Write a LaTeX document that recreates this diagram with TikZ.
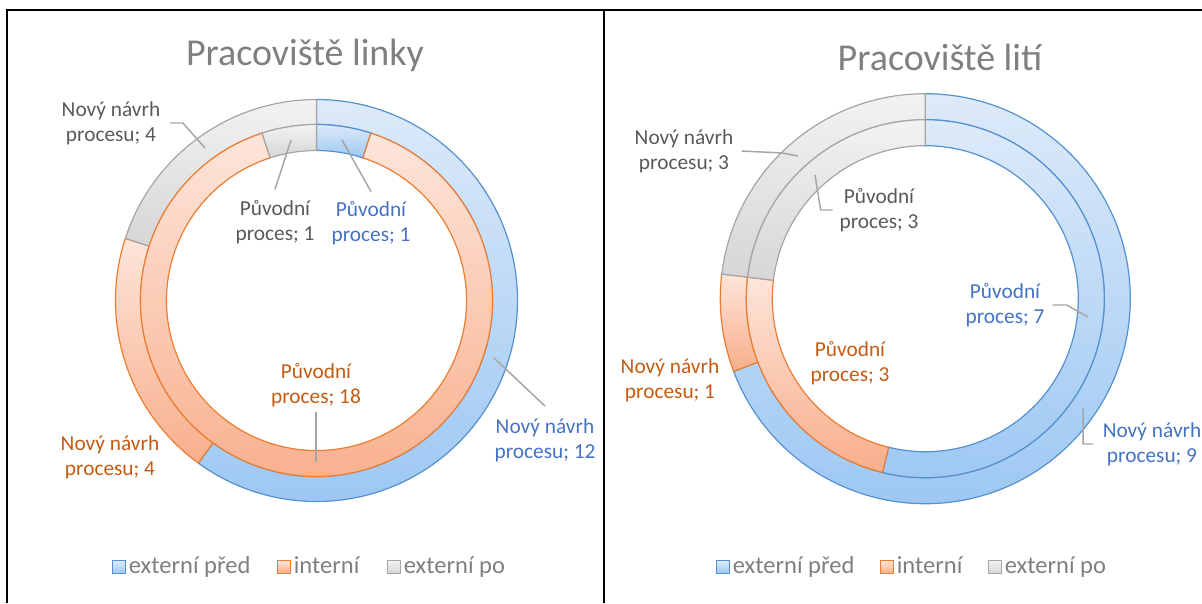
\documentclass[tikz,border=0pt]{standalone}
\usepackage{fontspec}
\setmainfont{Carlito}
\usetikzlibrary{positioning}

\definecolor{blueTop}{HTML}{DDEAF9}
\definecolor{blueBot}{HTML}{9DC8F3}
\definecolor{blueLine}{HTML}{5590D0}
\definecolor{blueText}{HTML}{4472C4}
\definecolor{orangeTop}{HTML}{FDE5DA}
\definecolor{orangeBot}{HTML}{F8AE8B}
\definecolor{orangeLine}{HTML}{ED7D31}
\definecolor{orangeText}{HTML}{C55A11}
\definecolor{grayTop}{HTML}{F2F2F2}
\definecolor{grayBot}{HTML}{D6D6D6}
\definecolor{grayLine}{HTML}{A5A5A5}
\definecolor{grayText}{HTML}{595959}
\definecolor{titleText}{HTML}{7F7F7F}

% one piece of a ring: centre, inner r, outer r, from, to, style
\newcommand{\donutpart}[6]{%
  \path[#6] ([shift={(#4:#3)}]#1) arc[start angle=#4, end angle=#5, radius=#3]
    -- ([shift={(#5:#2)}]#1) arc[start angle=#5, end angle=#4, radius=#2] -- cycle;}

\begin{document}
\begin{tikzpicture}[x=0.75pt, y=0.75pt,
    bluepart/.style={top color=blueTop, bottom color=blueBot, draw=blueLine, line width=0.9pt},
    orangepart/.style={top color=orangeTop, bottom color=orangeBot, draw=orangeLine, line width=0.9pt},
    graypart/.style={top color=grayTop, bottom color=grayBot, draw=grayLine, line width=0.9pt},
    charttitle/.style={font=\fontsize{28.5}{32}\selectfont, text=titleText, inner sep=0pt},
    lbl/.style={align=center, font=\fontsize{16}{18.75}\selectfont, inner sep=0pt},
    leader/.style={draw=grayLine, line width=1.1pt},
    keybox/.style={minimum size=9.5pt, inner sep=0pt, line width=0.9pt},
    keytext/.style={font=\fontsize{18.4}{20}\selectfont, text=titleText, inner sep=0pt,
      text height=13pt, text depth=3.7pt, anchor=west}]
  \useasboundingbox (0,0) rectangle (1202,-603);

  % Frame
  \draw[line width=1.6pt] (7,-603) -- (7,-10) -- (1202,-10);
  \draw[line width=1.6pt] (604,-10) -- (604,-603);

  % Pracoviste linky
  \coordinate (cl) at (316.5,-300.5);
  \node[charttitle] (tl) at (305,-55) {Pracoviště linky};
  % outer ring
  \donutpart{cl}{176}{201}{90}{-126}{bluepart}
  \donutpart{cl}{176}{201}{-126}{-198}{orangepart}
  \donutpart{cl}{176}{201}{-198}{-270}{graypart}
  % inner ring
  \donutpart{cl}{150}{176}{90}{72}{bluepart}
  \donutpart{cl}{150}{176}{72}{-252}{orangepart}
  \donutpart{cl}{150}{176}{-252}{-270}{graypart}

  % Pracoviste liti
  \coordinate (cr) at (925.3,-298.7);
  \node[charttitle] (tr) at (940,-57) {Pracoviště lití};
  % outer ring
  \donutpart{cr}{179}{205}{90}{-159.23}{bluepart}
  \donutpart{cr}{179}{205}{-159.23}{-186.92}{orangepart}
  \donutpart{cr}{179}{205}{-186.92}{-270}{graypart}
  % inner ring
  \donutpart{cr}{153}{179}{90}{-103.85}{bluepart}
  \donutpart{cr}{153}{179}{-103.85}{-186.92}{orangepart}
  \donutpart{cr}{153}{179}{-186.92}{-270}{graypart}

  % Labels, left
  \node[lbl, text=grayText] (l1) at (111,-123) {Nový návrh\\procesu; 4};
  \node[lbl, text=grayText] (l2) at (275,-222) {Původní\\proces; 1};
  \node[lbl, text=blueText] (l3) at (371,-223) {Původní\\proces; 1};
  \node[lbl, text=orangeText] (l4) at (316,-385) {Původní\\proces; 18};
  \node[lbl, text=blueText] (l5) at (545,-440) {Nový návrh\\procesu; 12};
  \node[lbl, text=orangeText] (l6) at (110,-457) {Nový návrh\\procesu; 4};
  \coordinate (gl1) at (205,-148);
  \coordinate (gl2) at (291,-140);
  \coordinate (bl3) at (342,-140);
  \coordinate (ol4) at (316,-462);
  \coordinate (bl5) at (494,-358);
  \draw[leader] ([xshift=7pt]l1.east) -- ++(13,0) -- (gl1);
  \draw[leader] ([yshift=8pt]l2.north) -- (gl2);
  \draw[leader] ([yshift=7pt]l3.north) -- (bl3);
  \draw[leader] ([yshift=-4pt]l4.south) -- (ol4);
  \draw[leader] ([yshift=9pt]l5.north) -- (bl5);

  % Labels, right
  \node[lbl, text=grayText] (r1) at (684,-151) {Nový návrh\\procesu; 3};
  \node[lbl, text=grayText] (r2) at (879,-210) {Původní\\proces; 3};
  \node[lbl, text=blueText] (r3) at (1005,-305) {Původní\\proces; 7};
  \node[lbl, text=orangeText] (r4) at (850,-363) {Původní\\proces; 3};
  \node[lbl, text=orangeText] (r5) at (670,-380) {Nový návrh\\procesu; 1};
  \node[lbl, text=blueText] (r6) at (1152,-444) {Nový návrh\\procesu; 9};
  \coordinate (gr1) at (798,-156);
  \coordinate (gr2) at (815,-175);
  \coordinate (br3) at (1088,-317);
  \coordinate (br6) at (1083,-408);
  \draw[leader] ([xshift=6pt]r1.east) -- (782,-153) -- (gr1);
  \draw[leader] ([xshift=-5pt]r2.west) -- ++(-12,0) -- (gr2);
  \draw[leader] ([xshift=6pt]r3.east) -- ++(14,0) -- (br3);
  \draw[leader] ([xshift=-7pt]r6.west) -- ++(-10,0) -- (br6);

  % Legend, left
  \node[keybox, top color=blueTop, bottom color=blueBot, draw=blueLine] (kl1) at (119,-567) {};
  \node[keytext, right=2pt of kl1] (ktl1) {externí před};
  \node[keybox, top color=orangeTop, bottom color=orangeBot, draw=orangeLine] (kl2) at (284,-567) {};
  \node[keytext, right=2pt of kl2] (ktl2) {interní};
  \node[keybox, top color=grayTop, bottom color=grayBot, draw=grayLine] (kl3) at (394,-567) {};
  \node[keytext, right=2pt of kl3] (ktl3) {externí po};

  % Legend, right
  \node[keybox, top color=blueTop, bottom color=blueBot, draw=blueLine] (kr1) at (723,-567) {};
  \node[keytext, right=2pt of kr1] (ktr1) {externí před};
  \node[keybox, top color=orangeTop, bottom color=orangeBot, draw=orangeLine] (kr2) at (887,-567) {};
  \node[keytext, right=2pt of kr2] (ktr2) {interní};
  \node[keybox, top color=grayTop, bottom color=grayBot, draw=grayLine] (kr3) at (995,-567) {};
  \node[keytext, right=2pt of kr3] (ktr3) {externí po};
\end{tikzpicture}
\end{document}
